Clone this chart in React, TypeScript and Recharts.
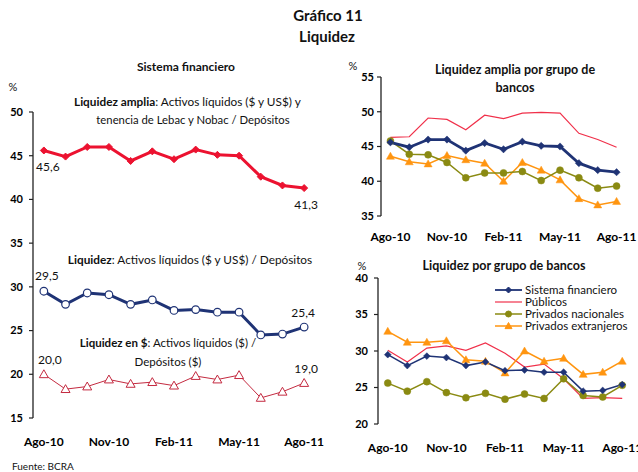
import React from 'react';
import { LineChart, Line, XAxis, YAxis, LabelList } from 'recharts';

const FONT = 'Lato, "Open Sans", "DejaVu Sans", sans-serif';

// ---- categories / ticks ----
const months = ['Ago-10', 'Sep-10', 'Oct-10', 'Nov-10', 'Dic-10', 'Ene-11', 'Feb-11', 'Mar-11', 'Abr-11', 'May-11', 'Jun-11', 'Jul-11', 'Ago-11'];
const tickMarkIdx = [0, 2, 4, 6, 8, 10, 12];
const labelIdx = [0, 3, 6, 9, 12];

// ---- Sistema financiero (left panel) ----
const liqAmplia = [45.6, 44.9, 46.0, 46.0, 44.4, 45.5, 44.6, 45.7, 45.1, 45.0, 42.6, 41.6, 41.3];
const liquidez = [29.5, 28.0, 29.3, 29.1, 28.0, 28.5, 27.3, 27.4, 27.1, 27.1, 24.5, 24.6, 25.4];
const liqPesos = [20.0, 18.3, 18.6, 19.4, 18.9, 19.1, 18.7, 19.8, 19.4, 19.9, 17.3, 18.0, 19.0];
const leftTicks = [15, 20, 25, 30, 35, 40, 45, 50];

// ---- Liquidez amplia por grupo de bancos ----
const ampliaSistema = liqAmplia;
const ampliaPublicos = [46.3, 46.4, 49.1, 48.9, 47.4, 49.5, 49.0, 49.8, 49.9, 49.8, 46.9, 46.0, 44.9];
const ampliaNacionales = [45.8, 43.9, 43.8, 42.7, 40.5, 41.2, 41.2, 41.4, 40.1, 41.6, 40.5, 39.0, 39.3];
const ampliaExtranjeros = [43.6, 42.8, 42.5, 43.7, 43.1, 42.6, 40.0, 42.7, 41.6, 40.2, 37.5, 36.6, 37.1];
const trTicks = [35, 40, 45, 50, 55];

// ---- Liquidez por grupo de bancos ----
const liqSistema = liquidez;
const liqPublicos = [30.1, 28.5, 30.4, 30.7, 30.1, 31.1, 29.7, 27.8, 28.2, 26.2, 23.5, 23.6, 23.5];
const liqNacionales = [25.6, 24.5, 25.8, 24.3, 23.6, 24.2, 23.4, 24.1, 23.5, 26.2, 23.9, 23.7, 25.3];
const liqExtranjeros = [32.7, 31.2, 31.2, 31.4, 28.8, 28.6, 27.0, 30.0, 28.6, 29.0, 26.8, 27.1, 28.6];
const brTicks = [20, 25, 30, 35, 40];

const legendNames = ['Sistema financiero', 'Públicos', 'Privados nacionales', 'Privados extranjeros'];

const C = {
  red: '#EC1230',
  navy: '#1F3375',
  darkred: '#C42A40',
  publicos: '#F0304A',
  olive: '#8A8A12',
  orange: '#FF9510',
  axis: '#222',
};

const leftData = months.map((m, i) => ({ x: i + 0.5, amplia: liqAmplia[i], liq: liquidez[i], pesos: liqPesos[i] }));
const trData = months.map((m, i) => ({ x: i + 0.5, s: ampliaSistema[i], p: ampliaPublicos[i], n: ampliaNacionales[i], e: ampliaExtranjeros[i] }));
const brData = months.map((m, i) => ({ x: i + 0.5, s: liqSistema[i], p: liqPublicos[i], n: liqNacionales[i], e: liqExtranjeros[i] }));

type Shape = 'diamond' | 'circle' | 'triangle';

function renderShape(shape: Shape, cx: number, cy: number, r: number, fill: string, stroke: string, sw: number, key?: any) {
  if (shape === 'diamond') {
    return <polygon key={key} points={`${cx},${cy - r} ${cx + r},${cy} ${cx},${cy + r} ${cx - r},${cy}`} fill={fill} stroke={stroke} strokeWidth={sw} />;
  }
  if (shape === 'circle') {
    return <circle key={key} cx={cx} cy={cy} r={r} fill={fill} stroke={stroke} strokeWidth={sw} />;
  }
  return <polygon key={key} points={`${cx},${cy - r} ${cx + r},${cy + r * 0.75} ${cx - r},${cy + r * 0.75}`} fill={fill} stroke={stroke} strokeWidth={sw} strokeLinejoin="miter" />;
}

const dotFn = (shape: Shape, r: number, fill: string, stroke: string, sw = 1) => (p: any) => {
  if (p.cx == null || p.cy == null) return <g key={p.index} />;
  return renderShape(shape, p.cx, p.cy, r, fill, stroke, sw, `d-${p.index}`);
};

const fmt = (v: number) => v.toFixed(1).replace('.', ',');

const endLabels = (dyFirst: number, dyLast: number, dxFirst = 0, dxLast = 0) => (p: any) => {
  const last = months.length - 1;
  if (p.index !== 0 && p.index !== last) return null;
  const first = p.index === 0;
  return (
    <text
      key={`l-${p.index}`}
      x={p.x + (first ? dxFirst : dxLast)}
      y={p.y + (first ? dyFirst : dyLast)}
      textAnchor="middle"
      dominantBaseline="central"
      fontSize={12}
      fontFamily={FONT}
      fill="#111"
    >
      {fmt(p.value)}
    </text>
  );
};

const tickStyle = { fill: '#000', fontSize: 11, fontWeight: 700, fontFamily: FONT };
const xTickStyle = { fill: '#000', fontSize: 12, fontWeight: 700, fontFamily: FONT };

function XAxes(labelMargin: number) {
  return [
    <XAxis
      key="xt"
      xAxisId="t"
      type="number"
      dataKey="x"
      domain={[0, 13]}
      allowDataOverflow
      ticks={tickMarkIdx}
      interval={0}
      tick={false}
      mirror
      tickSize={4}
      height={0}
      axisLine={{ stroke: C.axis, strokeWidth: 1.3 }}
      tickLine={{ stroke: C.axis, strokeWidth: 1.2 }}
    />,
    <XAxis
      key="xl"
      xAxisId="l"
      type="number"
      dataKey="x"
      domain={[0, 13]}
      allowDataOverflow
      ticks={labelIdx.map((i) => i + 0.5)}
      interval={0}
      tickFormatter={(v: number) => months[Math.floor(v)]}
      axisLine={false}
      tickLine={false}
      tickSize={0}
      tickMargin={labelMargin}
      height={30}
      tick={xTickStyle}
    />,
  ];
}

function YAx(domain: [number, number], ticks: number[], width: number, margin: number) {
  return (
    <YAxis
      type="number"
      domain={domain}
      ticks={ticks}
      interval={0}
      allowDataOverflow
      width={width}
      tickSize={4}
      tickMargin={margin}
      axisLine={{ stroke: C.axis, strokeWidth: 1.3 }}
      tickLine={{ stroke: C.axis, strokeWidth: 1.2 }}
      tick={tickStyle}
    />
  );
}

function T({ x, y, size = 11, bold = false, anchor = 'middle', children }: any) {
  const tx = anchor === 'middle' ? '-50%' : anchor === 'end' ? '-100%' : '0';
  return (
    <div
      style={{
        position: 'absolute',
        left: x,
        top: y,
        transform: `translate(${tx}, -50%)`,
        fontFamily: FONT,
        fontSize: size,
        fontWeight: bold ? 700 : 400,
        whiteSpace: 'nowrap',
        color: '#111',
        lineHeight: 1,
      }}
    >
      {children}
    </div>
  );
}

function LegendBox() {
  const items = [
    { name: legendNames[0], color: C.navy, shape: 'diamond' as Shape, r: 3, sw: 1.8 },
    { name: legendNames[1], color: C.publicos, shape: null, r: 0, sw: 1.2 },
    { name: legendNames[2], color: C.olive, shape: 'circle' as Shape, r: 3, sw: 1.5 },
    { name: legendNames[3], color: C.orange, shape: 'triangle' as Shape, r: 3.5, sw: 1.5 },
  ];
  return (
    <div style={{ position: 'absolute', left: 494, top: 284, fontFamily: FONT, fontSize: 11.5, color: '#111', lineHeight: '12px' }}>
      {items.map((it) => (
        <div key={it.name} style={{ display: 'flex', alignItems: 'center', height: 12 }}>
          <svg width={30} height={12} style={{ marginRight: 1 }}>
            <line x1={1} y1={6} x2={28} y2={6} stroke={it.color} strokeWidth={it.sw} />
            {it.shape ? renderShape(it.shape, 14.5, 6, it.r, it.color, it.color, 1) : null}
          </svg>
          <span>{it.name}</span>
        </div>
      ))}
    </div>
  );
}

export default function App() {
  return (
    <div style={{ position: 'absolute', left: 0, top: 0, width: 638, height: 472, background: '#fff', overflow: 'hidden' }}>
      {/* Titles */}
      <T x={328} y={15} size={15} bold>Gráfico 11</T>
      <T x={327} y={36} size={15} bold>Liquidez</T>
      <T x={186} y={67} size={12} bold>Sistema financiero</T>
      <T x={13} y={86} size={11}>%</T>
      <T x={515} y={70} size={12.5} bold>Liquidez amplia por grupo de</T>
      <T x={515} y={88} size={12.5} bold>bancos</T>
      <T x={353} y={65} size={11}>%</T>
      <T x={504} y={266} size={12.5} bold>Liquidez por grupo de bancos</T>
      <T x={362} y={265} size={11}>%</T>
      <T x={12} y={466} size={10} anchor="start">Fuente: BCRA</T>

      {/* Left panel */}
      <div style={{ position: 'absolute', left: 0, top: 0 }}>
        <LineChart width={330} height={460} data={leftData} margin={{ top: 112, right: 15, bottom: 12, left: 0 }}>
          {XAxes(19)}
          {YAx([15, 50], leftTicks, 33, 6)}
          <Line xAxisId="t" dataKey="pesos" stroke={C.darkred} strokeWidth={1} dot={dotFn('triangle', 4.5, '#fff', C.darkred, 1)} isAnimationActive={false}>
            <LabelList dataKey="pesos" content={endLabels(-15, -15, 6, 2)} />
          </Line>
          <Line xAxisId="t" dataKey="liq" stroke={C.navy} strokeWidth={3} dot={dotFn('circle', 3.8, '#fff', C.navy, 1.2)} isAnimationActive={false}>
            <LabelList dataKey="liq" content={endLabels(-16, -15, 3, -1)} />
          </Line>
          <Line xAxisId="t" dataKey="amplia" stroke={C.red} strokeWidth={3} dot={dotFn('diamond', 3.5, C.red, C.red, 1)} isAnimationActive={false}>
            <LabelList dataKey="amplia" content={endLabels(16, 16, 4, 2)} />
          </Line>
        </LineChart>
      </div>
      <div style={{ position: 'absolute', left: 74, top: 101, fontFamily: FONT, fontSize: 11.8, color: '#111', whiteSpace: 'nowrap', transform: 'translateY(-50%)' }}>
        <b>Liquidez amplia</b>: Activos líquidos ($ y US$) y
      </div>
      <T x={193} y={120} size={11.3}>tenencia de Lebac y Nobac / Depósitos</T>
      <T x={190} y={260} size={11.8}><b>Liquidez</b>: Activos líquidos ($ y US$) / Depósitos</T>
      <T x={168} y={343} size={11.5}><b>Liquidez en $</b>: Activos líquidos ($) /</T>
      <T x={168} y={362} size={11.5}>Depósitos ($)</T>

      {/* Top-right panel */}
      <div style={{ position: 'absolute', left: 330, top: 0 }}>
        <LineChart width={308} height={250} data={trData} margin={{ top: 77, right: 12, bottom: 4, left: 0 }}>
          {XAxes(16)}
          {YAx([35, 55], trTicks, 51, 3)}
          <Line xAxisId="t" dataKey="p" stroke={C.publicos} strokeWidth={1.2} dot={false} isAnimationActive={false} />
          <Line xAxisId="t" dataKey="e" stroke={C.orange} strokeWidth={1.5} dot={dotFn('triangle', 4, C.orange, C.orange, 0.5)} isAnimationActive={false} />
          <Line xAxisId="t" dataKey="n" stroke={C.olive} strokeWidth={1.5} dot={dotFn('circle', 3.5, C.olive, C.olive, 0.5)} isAnimationActive={false} />
          <Line xAxisId="t" dataKey="s" stroke={C.navy} strokeWidth={2.8} dot={dotFn('diamond', 3.6, C.navy, C.navy, 0.5)} isAnimationActive={false} />
        </LineChart>
      </div>

      {/* Bottom-right panel */}
      <div style={{ position: 'absolute', left: 330, top: 250 }}>
        <LineChart width={308} height={222} data={brData} margin={{ top: 28, right: 6, bottom: 18, left: 0 }}>
          {XAxes(19)}
          {YAx([20, 40], brTicks, 48, 6)}
          <Line xAxisId="t" dataKey="p" stroke={C.publicos} strokeWidth={1.2} dot={false} isAnimationActive={false} />
          <Line xAxisId="t" dataKey="n" stroke={C.olive} strokeWidth={1.5} dot={dotFn('circle', 3.5, C.olive, C.olive, 0.5)} isAnimationActive={false} />
          <Line xAxisId="t" dataKey="e" stroke={C.orange} strokeWidth={1.5} dot={dotFn('triangle', 4, C.orange, C.orange, 0.5)} isAnimationActive={false} />
          <Line xAxisId="t" dataKey="s" stroke={C.navy} strokeWidth={1.5} dot={dotFn('diamond', 3.4, C.navy, C.navy, 0.5)} isAnimationActive={false} />
        </LineChart>
      </div>
      <LegendBox />
    </div>
  );
}
